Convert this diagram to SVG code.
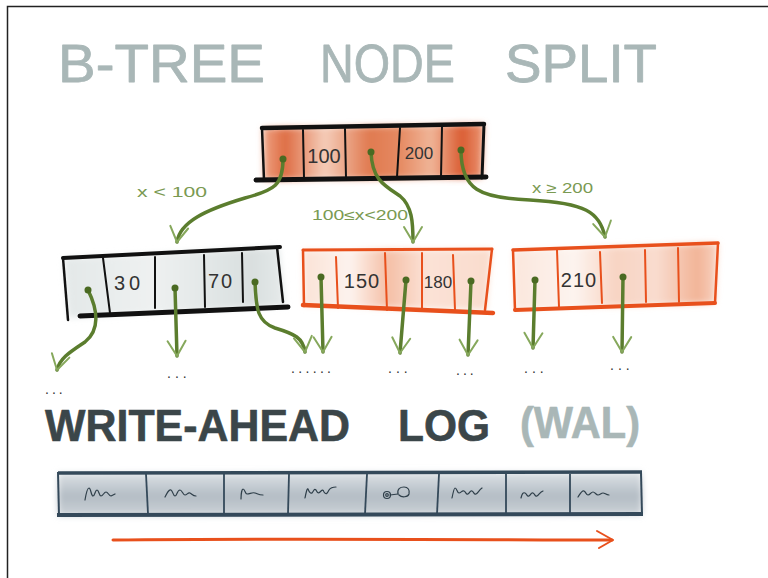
<svg xmlns="http://www.w3.org/2000/svg" width="768" height="578" viewBox="0 0 768 578">
<style>
.title{font-family:"Liberation Sans",Arial,sans-serif;font-size:54px;fill:#a9b7b7;stroke:#a9b7b7;stroke-width:0.8;stroke-linejoin:round}
.wal{font-family:"Liberation Sans",Arial,sans-serif;font-size:44px;font-weight:bold;fill:#3b4649;stroke:#3b4649;stroke-width:0.6;stroke-linejoin:round}
.num{font-family:"Liberation Sans",Arial,sans-serif;fill:#333;text-anchor:middle}
.lbl{font-family:"Liberation Sans",Arial,sans-serif;font-size:14px;fill:#7a9a52}
.dots{font-family:"Liberation Sans",Arial,sans-serif;font-size:14px;fill:#333}
.edgeK{stroke:#111;fill:none;stroke-linecap:round}
.edgeO{stroke:#e8501c;fill:none;stroke-linecap:round}
.div{stroke-width:2;fill:none;stroke-linecap:round}
.conn{fill:none;stroke:#5b7d2e;stroke-width:3.5;stroke-linecap:round;marker-end:url(#vhead)}
.dot{fill:#4a6a22}
.wash{filter:url(#soft)}
.scrib{fill:none;stroke:#2f3f4a;stroke-width:1.2;stroke-linecap:round;stroke-linejoin:round}
</style>
<defs>
<filter id="soft" x="-10%" y="-20%" width="120%" height="140%">
<feGaussianBlur stdDeviation="3"/>
</filter>
<marker id="vhead" viewBox="-18 -12 22 24" refX="0" refY="0" markerWidth="22" markerHeight="24" markerUnits="userSpaceOnUse" orient="auto">
<path d="M-15,-9 L0,0 L-15,9" fill="none" stroke="#86a85c" stroke-width="2" stroke-linecap="round" stroke-linejoin="round"/>
</marker>
<linearGradient id="gRoot" x1="0" y1="0" x2="1" y2="0">
<stop offset="0" stop-color="#eea283"/>
<stop offset="0.1" stop-color="#de6d44"/>
<stop offset="0.28" stop-color="#f5cdb9"/>
<stop offset="0.48" stop-color="#e07a50"/>
<stop offset="0.62" stop-color="#e58a62"/>
<stop offset="0.76" stop-color="#f0b598"/>
<stop offset="0.9" stop-color="#da5c32"/>
<stop offset="1" stop-color="#ea9472"/>
</linearGradient>
<linearGradient id="gMid" x1="0" y1="0" x2="1" y2="0">
<stop offset="0" stop-color="#fbe2d6"/>
<stop offset="0.25" stop-color="#fdf3ee"/>
<stop offset="0.45" stop-color="#f5bfa6"/>
<stop offset="0.65" stop-color="#fbe2d6"/>
<stop offset="1" stop-color="#f9dccd"/>
</linearGradient>
<linearGradient id="gRight" x1="0" y1="0" x2="1" y2="0">
<stop offset="0" stop-color="#fbe6dc"/>
<stop offset="0.3" stop-color="#fdf4ef"/>
<stop offset="0.5" stop-color="#f8d4c3"/>
<stop offset="0.7" stop-color="#f9dccf"/>
<stop offset="0.9" stop-color="#f2b497"/>
<stop offset="1" stop-color="#f8d3c2"/>
</linearGradient>
<linearGradient id="gLeft" x1="0" y1="0" x2="1" y2="0">
<stop offset="0" stop-color="#e3e8e8"/>
<stop offset="0.4" stop-color="#eef1f1"/>
<stop offset="0.85" stop-color="#d9dfdf"/>
<stop offset="1" stop-color="#e6eaea"/>
</linearGradient>
<linearGradient id="gWal" x1="0" y1="0" x2="0" y2="1">
<stop offset="0" stop-color="#dde2e6"/>
<stop offset="0.55" stop-color="#b3bcc4"/>
<stop offset="1" stop-color="#cdd3d8"/>
</linearGradient>
</defs>
<rect width="768" height="578" fill="#fff"/>
<path d="M7.5,578 L7.5,6.5 L768,6.5" fill="none" stroke="#222" stroke-width="1.5"/>

<g id="title">
<text class="title" x="58" y="82" textLength="207" lengthAdjust="spacingAndGlyphs">B-TREE</text>
<text class="title" x="320" y="82" textLength="135" lengthAdjust="spacingAndGlyphs">NODE</text>
<text class="title" x="505" y="82" textLength="152" lengthAdjust="spacingAndGlyphs">SPLIT</text>
</g>

<g id="node-root">
<path class="wash" d="M263,128 L484,124 L482,178 L264,180 Z" fill="url(#gRoot)"/>
<path class="edgeK" d="M262,128 L484,124" stroke-width="4.5"/>
<path class="edgeK" d="M484,124 L482,178" stroke-width="3"/>
<path class="edgeK" d="M256,180 L486,177" stroke-width="5"/>
<path class="edgeK" d="M262,128 L264,180" stroke-width="2.5"/>
<path class="div" stroke="#111" d="M303,130 L304,178"/>
<path class="div" stroke="#111" d="M345,129 L346,178"/>
<path class="div" stroke="#111" d="M400,128 L397,177"/>
<path class="div" stroke="#111" d="M442,127 L441,177"/>
<text class="num" x="324" y="163" font-size="20">100</text>
<text class="num" x="419" y="159" font-size="17">200</text>
</g>

<g id="node-left">
<path class="wash" d="M64,258 L279,247 L285,306 L68,318 Z" fill="url(#gLeft)"/>
<path class="edgeK" d="M63,258 L280,247" stroke-width="4"/>
<path class="edgeK" d="M63,258 L68,320" stroke-width="2.5"/>
<path class="edgeK" d="M80,316 L288,307" stroke-width="5"/>
<path class="edgeK" d="M277,247 L283,302" stroke-width="2.5"/>
<path class="div" stroke="#111" d="M103,258 L110,313"/>
<path class="div" stroke="#111" d="M155,257 L155,308"/>
<path class="div" stroke="#111" d="M204,255 L205,307"/>
<path class="div" stroke="#111" d="M242,253 L243,302"/>
<text class="num" x="129" y="290" font-size="20" letter-spacing="4">30</text>
<text class="num" x="221" y="288" font-size="20" letter-spacing="2">70</text>
</g>

<g id="node-mid">
<path class="wash" d="M303,250 L492,249 L486,310 L304,306 Z" fill="url(#gMid)"/>
<path class="edgeO" d="M303,250 L492,249" stroke-width="3"/>
<path class="edgeO" d="M303,250 L304,306" stroke-width="2.5"/>
<path class="edgeO" d="M303,305 L493,313" stroke-width="4.5"/>
<path class="edgeO" d="M492,249 L485,310" stroke-width="2.5"/>
<path class="div" stroke="#e8501c" d="M336,257 L338,308"/>
<path class="div" stroke="#e8501c" d="M385,253 L387,310"/>
<path class="div" stroke="#e8501c" d="M422,253 L422,310"/>
<path class="div" stroke="#e8501c" d="M453,255 L455,310"/>
<text class="num" x="362" y="288" font-size="20" letter-spacing="1">150</text>
<text class="num" x="438" y="288" font-size="17">180</text>
</g>

<g id="node-right">
<path class="wash" d="M513,250 L718,243 L715,303 L515,310 Z" fill="url(#gRight)"/>
<path class="edgeO" d="M513,250 L718,243" stroke-width="3.5"/>
<path class="edgeO" d="M513,250 L515,310" stroke-width="2.5"/>
<path class="edgeO" d="M515,310 L715,303" stroke-width="4"/>
<path class="edgeO" d="M718,243 L715,303" stroke-width="2.5"/>
<path class="div" stroke="#e8501c" d="M557,250 L559,307"/>
<path class="div" stroke="#e8501c" d="M600,252 L602,303"/>
<path class="div" stroke="#e8501c" d="M645,250 L646,302"/>
<path class="div" stroke="#e8501c" d="M678,248 L679,302"/>
<text class="num" x="579" y="287" font-size="20" letter-spacing="1">210</text>
</g>

<g id="connectors">
<path class="conn" d="M283,159 C283,185 275,190 245,198 C205,210 180,222 177,242"/>
<path class="conn" d="M371,152 C372,180 385,186 400,196 C412,206 413,222 413,242"/>
<path class="conn" d="M461,150 C461,190 480,198 530,200 C585,203 600,212 605,237"/>
<path class="conn" d="M88,290 C98,310 100,330 85,342 C70,352 60,358 57,370"/>
<path class="conn" d="M175,288 L177,356"/>
<path class="conn" d="M255,282 C256,310 258,322 275,328 C295,334 303,338 305,352"/>
<path class="conn" d="M321,277 L323,352"/>
<path class="conn" d="M406,280 L400,353"/>
<path class="conn" d="M471,281 L468,355"/>
<path class="conn" d="M535,280 L533,348"/>
<path class="conn" d="M623,277 L622,352"/>
<g class="dot">
<circle cx="283" cy="159" r="3.5"/>
<circle cx="371" cy="152" r="3.5"/>
<circle cx="461" cy="150" r="3.5"/>
<circle cx="88" cy="290" r="3.5"/>
<circle cx="175" cy="288" r="3.5"/>
<circle cx="255" cy="282" r="3.5"/>
<circle cx="321" cy="277" r="3.5"/>
<circle cx="406" cy="280" r="3.5"/>
<circle cx="471" cy="281" r="3.5"/>
<circle cx="535" cy="280" r="3.5"/>
<circle cx="623" cy="277" r="3.5"/>
</g>
<text class="lbl" x="137" y="197" textLength="70" lengthAdjust="spacingAndGlyphs">x &lt; 100</text>
<text class="lbl" x="312" y="220" textLength="96" lengthAdjust="spacingAndGlyphs">100≤x&lt;200</text>
<text class="lbl" x="532" y="193" textLength="61" lengthAdjust="spacingAndGlyphs">x ≥ 200</text>
</g>

<g id="ellipses">
<text class="dots" x="45" y="394" letter-spacing="3">...</text>
<text class="dots" x="167" y="378" letter-spacing="4">...</text>
<text class="dots" x="291" y="373" textLength="40" lengthAdjust="spacing">......</text>
<text class="dots" x="388" y="373" letter-spacing="4">...</text>
<text class="dots" x="456" y="375" letter-spacing="3">...</text>
<text class="dots" x="524" y="373" letter-spacing="4">...</text>
<text class="dots" x="610" y="370" letter-spacing="4">...</text>
</g>

<g id="wal-title">
<text class="wal" x="45" y="441" textLength="305" lengthAdjust="spacingAndGlyphs">WRITE-AHEAD</text>
<text class="wal" x="398" y="441" textLength="92" lengthAdjust="spacingAndGlyphs">LOG</text>
<text class="wal" x="520" y="438" textLength="120" lengthAdjust="spacingAndGlyphs" style="fill:#a9b7b7;stroke:#a9b7b7">(WAL)</text>
</g>

<g id="wal-log">
<path class="wash" d="M58,473 L642,472 L642,515 L58,516 Z" fill="url(#gWal)"/>
<path d="M58,473 L642,472" stroke="#34495a" stroke-width="3.5" fill="none"/>
<path d="M57,515 L643,514" stroke="#34495a" stroke-width="4" fill="none"/>
<path d="M58,472 L59,516" stroke="#34495a" stroke-width="2" fill="none"/>
<path d="M641,472 L642,515" stroke="#34495a" stroke-width="2" fill="none"/>
<g stroke="#34495a" stroke-width="1.8" fill="none">
<path d="M146,474 L148,514"/>
<path d="M224,474 L224,514"/>
<path d="M289,474 L288,514"/>
<path d="M367,474 L365,514"/>
<path d="M439,474 L437,514"/>
<path d="M506,474 L506,514"/>
<path d="M570,474 L570,514"/>
</g>
<path class="scrib" d="M85,500 C86,494 87,488 89,488 C91,488 91,496 93,496 C95,496 95,490 97,490 C99,490 99,496 101,496 C103,496 104,492 106,492 C108,492 109,496 111,496 L115,494"/>
<path class="scrib" d="M165,497 C167,493 169,489 171,490 C173,491 173,496 175,496 C177,496 177,490 180,490 C182,490 183,495 185,495 C187,495 188,492 190,493 C192,494 193,496 196,496"/>
<path class="scrib" d="M241,499 C241,494 242,489 243,489 C245,489 245,494 247,494 C250,494 252,492 255,493 C258,494 259,495 263,495"/>
<path class="scrib" d="M305,498 C306,493 307,488 308,489 C309,491 310,494 312,493 C314,491 314,488 316,490 C317,492 318,494 320,492 C322,490 323,489 324,492 C326,495 327,494 329,490 C331,487 333,487 336,487"/>
<circle class="scrib" cx="387" cy="495" r="3.5"/>
<circle class="scrib" cx="387" cy="495" r="1.3"/>
<path class="scrib" d="M390,495 L398,494"/>
<path class="scrib" d="M398,494 C397,489 400,487 404,487 C408,487 410,490 409,494 C408,497 402,498 399,495"/>
<path class="scrib" d="M452,498 C453,493 454,488 455,488 C457,488 457,493 459,493 C461,493 462,490 464,491 C466,492 466,495 468,494 C470,493 470,490 472,491 C474,492 474,495 476,494 C478,493 479,490 482,488"/>
<path class="scrib" d="M521,498 C522,494 523,492 525,493 C527,494 527,497 529,496 C531,495 531,492 533,493 C535,494 535,497 537,496 C539,495 540,492 543,491"/>
<path class="scrib" d="M578,497 C580,494 582,490 584,491 C586,492 586,495 588,495 C590,495 591,492 593,492 C595,492 596,495 598,495 C600,495 601,493 603,493 C605,493 606,495 609,495"/>
</g>

<g id="wal-direction">
<path d="M113,540 C300,538 500,540 612,540" fill="none" stroke="#e8501c" stroke-width="3" stroke-linecap="round"/>
<path d="M597,531 L613,540 L599,548" fill="none" stroke="#e8501c" stroke-width="2" stroke-linecap="round" stroke-linejoin="round"/>
</g>
</svg>
